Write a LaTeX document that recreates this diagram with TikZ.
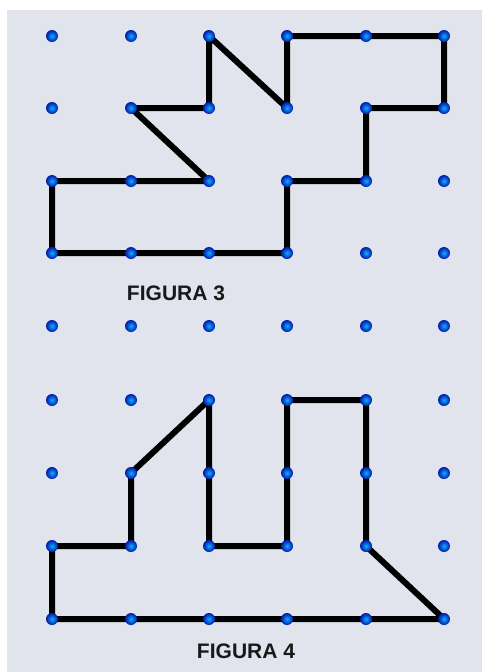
\documentclass[tikz,border=0pt]{standalone}
\usepackage{fontspec}
\setmainfont{Liberation Sans}
\definecolor{bg}{RGB}{225,228,236}
\definecolor{dotin}{RGB}{20,170,255}
\definecolor{dotout}{RGB}{0,25,170}
\begin{document}
\begin{tikzpicture}[x=1pt,y=-1pt,
  dot/.style={circle,inner sep=0pt,minimum size=12pt,inner color=dotin,outer color=dotout},
  outline/.style={draw=black,line width=6pt,line join=round},
  lab/.style={font=\bfseries\fontsize{21}{24}\selectfont,text=black!90}]
\useasboundingbox (0,0) rectangle (482,672);
\fill[white] (0,0) rectangle (482,672);
\fill[bg] (7,10) rectangle (482,672);
% grid coordinates
\foreach \i/\x in {1/52,2/131,3/209,4/287,5/366,6/444}{
  \foreach \j/\y in {1/36,2/108,3/181,4/253,5/326,6/400,7/473,8/546,9/619}{
    \coordinate (p\i-\j) at (\x,\y);
  }
}
% Figura 3
\draw[outline] (p1-3) -- (p3-3) -- (p2-2) -- (p3-2) -- (p3-1) -- (p4-2) -- (p4-1) -- (p6-1) -- (p6-2) -- (p5-2) -- (p5-3) -- (p4-3) -- (p4-4) -- (p1-4) -- cycle;
% Figura 4
\draw[outline] (p1-8) -- (p2-8) -- (p2-7) -- (p3-6) -- (p3-8) -- (p4-8) -- (p4-6) -- (p5-6) -- (p5-8) -- (p6-9) -- (p1-9) -- cycle;
% dots
\foreach \i in {1,...,6}{
  \foreach \j in {1,...,9}{
    \node[dot] (d\i-\j) at (p\i-\j) {};
  }
}
\node[lab] (f3) at (176,293) {FIGURA 3};
\node[lab] (f4) at (246,651) {FIGURA 4};
\end{tikzpicture}
\end{document}
